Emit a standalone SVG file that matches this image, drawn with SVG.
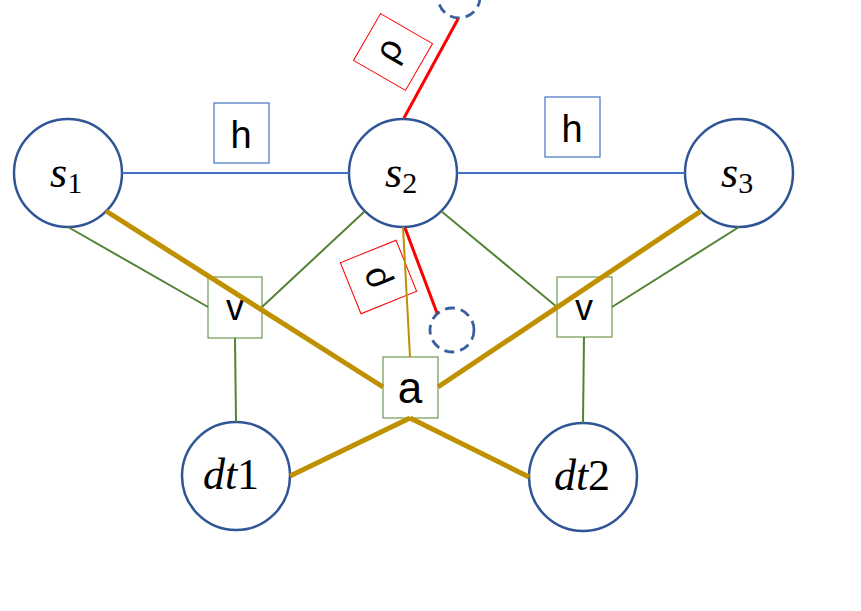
<svg xmlns="http://www.w3.org/2000/svg" width="861" height="611" viewBox="0 0 861 611">
<style>
.node{fill:#fff;stroke:#2F5597;stroke-width:2.5}
.dash{fill:none;stroke:#3A5FA0;stroke-width:2.8;stroke-dasharray:10 6}
.hbox{fill:#fff;stroke:#4472C4;stroke-width:1.2}
.gbox{fill:#fff;stroke:#6E9A4E;stroke-width:1.2}
.rbox{fill:none;stroke:#FF0000;stroke-width:1}
.math{font-family:"Liberation Serif","DejaVu Serif",serif;font-size:44px;fill:#000}
.it{font-style:italic}
.lbl{font-family:"Liberation Sans","DejaVu Sans",sans-serif;fill:#000}
.blue{stroke:#4472C4;stroke-width:2;fill:none}
.green{stroke:#548235;stroke-width:2;fill:none}
.gold{stroke:#BF9000;stroke-width:5;fill:none}
.goldthin{stroke:#BF9000;stroke-width:2;fill:none}
.red{stroke:#FF0000;stroke-width:3;fill:none}
</style>
<g id="nodes">
<g id="s1"><circle class="node" cx="68" cy="173" r="54"/><text class="math" x="50" y="187"><tspan class="it">s</tspan><tspan font-size="30" dy="6">1</tspan></text></g>
<g id="s2"><circle class="node" cx="403" cy="173" r="54"/><text class="math" x="385" y="187"><tspan class="it">s</tspan><tspan font-size="30" dy="6">2</tspan></text></g>
<g id="s3"><circle class="node" cx="739" cy="173" r="54"/><text class="math" x="721" y="187"><tspan class="it">s</tspan><tspan font-size="30" dy="6">3</tspan></text></g>
<g id="dt1"><circle class="node" cx="236" cy="476" r="54"/><text class="math" x="231" y="489" font-size="43" text-anchor="middle"><tspan class="it">dt</tspan>1</text></g>
<g id="dt2"><circle class="node" cx="583" cy="477" r="54"/><text class="math" x="582" y="490" font-size="43" text-anchor="middle"><tspan class="it">dt</tspan>2</text></g>
<g id="h1"><rect class="hbox" x="214" y="103" width="55" height="60"/><text class="lbl" x="241" y="148" font-size="38" text-anchor="middle">h</text></g>
<g id="h2"><rect class="hbox" x="545" y="97" width="55" height="60"/><text class="lbl" x="572" y="142" font-size="38" text-anchor="middle">h</text></g>
<g id="v1"><rect class="gbox" x="208" y="277" width="54" height="61"/><text class="lbl" x="235" y="320" font-size="36" text-anchor="middle">v</text></g>
<g id="v2"><rect class="gbox" x="557" y="277" width="55" height="60"/><text class="lbl" x="584" y="320" font-size="36" text-anchor="middle">v</text></g>
<g id="a"><rect class="gbox" x="383" y="357" width="55" height="61"/><text class="lbl" x="410" y="403" font-size="44" text-anchor="middle">a</text></g>
<g id="d1"><circle class="dash" cx="459" cy="-3" r="21"/></g>
<g id="d2"><circle class="dash" cx="452" cy="330" r="22"/></g>
<g id="rho1" transform="translate(393,52) rotate(30)"><rect class="rbox" x="-30" y="-27" width="60" height="54"/><text class="lbl" transform="rotate(-90)" x="0" y="7" font-size="36" text-anchor="middle">ρ</text></g>
<g id="rho2" transform="translate(378.5,277) rotate(-22)"><rect class="rbox" x="-30" y="-27.5" width="60" height="55"/><text class="lbl" transform="rotate(-90)" x="0" y="7" font-size="36" text-anchor="middle">ρ</text></g>
</g>
<g id="connectors">
<line class="blue" x1="122" y1="173" x2="349" y2="173"/>
<line class="blue" x1="457" y1="173" x2="685" y2="173"/>
<line class="green" x1="68" y1="227" x2="208" y2="307"/>
<line class="green" x1="365" y1="211" x2="262" y2="307"/>
<line class="green" x1="441" y1="211" x2="557" y2="307"/>
<line class="green" x1="739" y1="227" x2="612" y2="307"/>
<line class="green" x1="235" y1="338" x2="236" y2="422"/>
<line class="green" x1="584" y1="337" x2="583" y2="423"/>
<line class="gold" x1="106" y1="211" x2="383" y2="387"/>
<line class="gold" x1="701" y1="211" x2="438" y2="387"/>
<line class="gold" x1="410" y1="418" x2="290" y2="476"/>
<line class="gold" x1="410" y1="418" x2="529" y2="477"/>
<line class="goldthin" x1="403" y1="227" x2="410" y2="357"/>
<line class="red" x1="404" y1="118" x2="458" y2="19"/>
<line class="red" x1="405" y1="228" x2="437" y2="313"/>
</g>
</svg>
